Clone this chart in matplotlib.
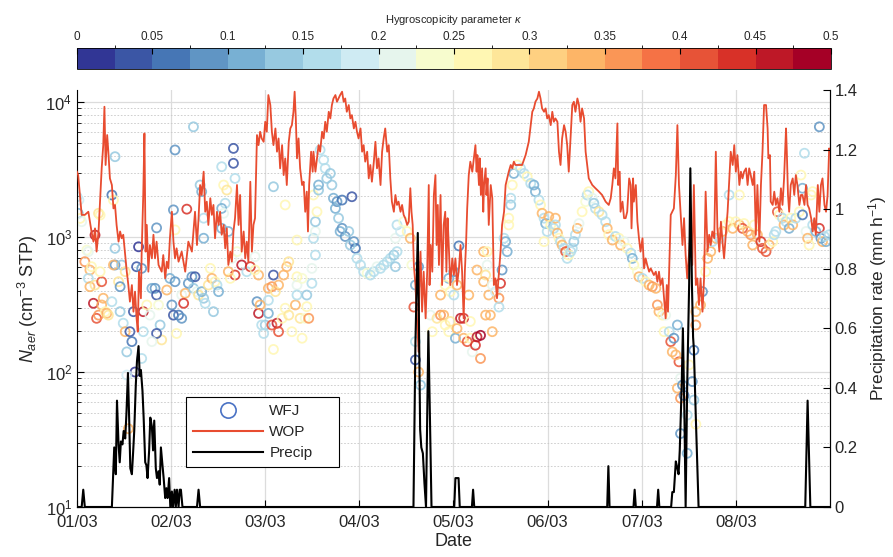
import numpy as np
import matplotlib
matplotlib.use('Agg')
import matplotlib.pyplot as plt
from matplotlib.colors import ListedColormap, BoundaryNorm
from matplotlib.cm import ScalarMappable
from matplotlib.lines import Line2D
from matplotlib.ticker import FuncFormatter

plt.rcParams['font.family'] = ['Liberation Sans', 'DejaVu Sans']
plt.rcParams['mathtext.fontset'] = 'custom'
plt.rcParams['mathtext.rm'] = 'Liberation Sans'
plt.rcParams['mathtext.it'] = 'Liberation Sans:italic'

# ---------------- data (time in hours from 01/03 00:00) ----------------
date_labels = ['01/03', '02/03', '03/03', '04/03', '05/03', '06/03', '07/03', '08/03']

# WOP aerosol number concentration (cm-3 STP)
wop_hour = [0.0, 0.3, 1.2, 2.0, 2.9, 3.7, 4.2, 4.6, 5.0, 5.5, 6.3, 6.7, 7.0, 7.3, 7.7, 8.0,
            8.4, 8.9, 9.3, 9.7, 10.1, 10.6, 11.0, 11.4, 11.8, 12.3, 12.7, 13.1, 13.5, 14.0,
            14.4, 14.8, 15.2, 15.5, 15.8, 16.3, 16.5, 16.9, 17.2, 17.5, 17.8, 18.2, 18.6,
            19.1, 19.5, 19.9, 20.3, 20.8, 21.6, 22.0, 22.5, 22.9, 23.3, 23.7,
            24.2, 24.6, 25.0, 25.4, 25.9, 26.7, 27.6, 28.4, 29.3, 29.7, 30.1, 30.6, 31.0,
            31.4, 31.8, 32.3, 32.7, 33.1, 33.5, 34.0, 34.4, 34.8, 35.2, 35.7, 36.1, 36.5,
            36.9, 37.4, 37.8, 38.2, 38.6, 39.1, 39.5, 39.9, 40.3, 40.8, 41.2, 41.6, 42.0,
            42.5, 42.9, 43.3, 43.7, 44.2, 44.6, 45.0, 45.4, 45.9, 46.3, 46.7, 47.1, 47.6,
            48.0, 48.4, 48.8, 49.3, 49.7, 50.1, 50.6, 51.0, 51.4, 51.8, 52.3, 52.7, 53.1,
            53.5, 54.0, 54.4, 54.8, 55.2, 55.5, 55.8, 56.1, 56.5, 56.9, 57.4, 57.8, 58.2,
            58.6, 58.9, 59.2, 59.7, 60.1, 60.3, 60.8, 61.2, 61.6, 62.0, 62.5, 62.9, 63.3,
            63.7, 64.2, 64.6, 65.0, 65.4, 65.9, 66.3, 66.7, 67.1, 67.6, 68.0, 68.4, 68.8,
            69.3, 69.7, 70.1, 70.6, 71.0, 71.4, 71.8, 72.3, 72.7, 73.1, 73.5, 74.0, 74.4,
            74.8, 75.2, 75.7, 76.1, 76.5, 76.9, 77.4, 77.8, 78.2, 78.6, 79.1, 79.5, 79.9,
            80.3, 80.8, 81.2, 81.6, 82.0, 82.5, 82.9, 83.3, 83.7, 84.2, 84.6, 85.0, 85.3,
            85.6, 85.9, 86.3, 86.7, 87.1, 87.3, 87.6, 88.0, 88.4, 88.9, 89.3, 89.7, 89.9,
            90.2, 90.6, 91.0, 91.4, 91.7, 92.0, 92.3, 92.7, 93.1, 93.5, 93.9, 94.2, 94.5,
            94.8, 95.2, 95.7, 96.1, 96.5, 96.9, 97.4, 97.8, 98.2, 98.6, 98.9, 99.2, 99.5,
            99.9, 100.3, 100.8, 101.2, 101.6, 101.9, 102.1, 102.5, 102.7, 103.0, 103.3,
            103.6, 103.8, 104.2, 104.4, 104.7, 105.0, 105.3, 105.5, 105.9, 106.3, 106.7,
            107.1, 107.6, 108.0, 108.4, 108.9, 109.3, 109.7, 110.1, 110.6, 111.0, 111.4,
            111.8, 112.7, 113.5, 114.4, 114.8, 115.2, 115.7, 116.1, 116.5, 116.9, 117.4,
            117.8, 118.2, 118.6, 119.1, 119.5, 119.9, 120.3, 120.8, 121.2, 121.6, 122.0,
            122.5, 122.9, 123.3, 123.7, 124.2, 124.6, 125.0, 125.4, 125.9, 126.3, 126.7,
            127.1, 127.6, 128.0, 128.4, 128.8, 129.3, 129.7, 130.1, 130.5, 131.4, 132.2,
            133.1, 133.9, 134.8, 135.6, 136.1, 136.5, 136.9, 137.3, 137.8, 138.0, 138.4,
            138.6, 139.1, 139.5, 139.9, 140.3, 140.8, 141.2, 141.4, 141.8, 142.0, 142.5,
            142.9, 143.3, 143.7, 144.2, 144.6, 145.0, 145.4, 145.9, 146.3, 146.7, 147.1,
            147.6, 148.0, 148.4, 148.8, 149.3, 149.7, 150.1, 150.4, 150.7, 151.0, 151.4,
            151.8, 152.2, 152.7, 153.1, 153.5, 153.9, 154.4, 154.8, 155.2, 155.6, 156.1,
            156.5, 156.9, 157.3, 157.8, 158.2, 158.6, 159.0, 159.5, 159.9, 160.3, 160.8,
            161.2, 161.6, 162.0, 162.5, 162.9, 163.3, 163.8, 164.2, 164.6, 165.0, 165.5,
            165.9, 166.3, 166.7, 167.2, 167.6, 168.0, 168.4, 168.9, 169.3, 169.7, 170.1,
            170.6, 171.0, 171.4, 171.8, 172.3, 172.7, 173.1, 173.5, 174.0, 174.4, 174.8,
            175.2, 175.7, 176.1, 176.3, 176.7, 176.9, 177.4, 177.8, 178.2, 178.6, 179.1,
            179.5, 179.9, 180.3, 180.8, 181.0, 181.3, 181.6, 182.0, 182.5, 182.9, 183.3,
            183.7, 184.2, 184.6, 185.0, 185.5, 185.9, 186.3, 186.7, 187.2, 187.6, 188.0,
            188.4, 188.9, 189.3, 189.7, 190.1, 190.6, 191.0, 191.4, 191.8, 192.0]
wop_n = [3050, 2880, 1460, 1460, 1540, 1100, 925, 1160, 780, 1100, 3230, 4800, 9240, 3420, 5700, 4290,
         2720, 2430, 1630, 1730, 1230, 925, 1100, 980, 1040, 736, 554, 441, 332, 441,
         280, 394, 250, 199, 554, 352, 780, 2050, 5860, 780, 1230, 554, 873,
         695, 1040, 695, 925, 621, 554, 736, 494, 657, 586, 980,
         1540, 925, 695, 825, 657, 780, 554, 925, 780, 1100, 1540, 873, 1380,
         2430, 2050, 3050, 1540, 1830, 1230, 1940, 1460, 1730, 980, 1540, 1230, 1540,
         1040, 1230, 825, 1160, 621, 780, 657, 1100, 1380, 2430, 1230, 2050, 780,
         1100, 695, 925, 657, 2570, 780, 1230, 1380, 5700, 4800, 6030, 5380, 5080,
         7150, 6030, 11280, 9510, 6030, 4800, 6380, 4290, 5380, 3230, 4800, 2880, 3830,
         2430, 5080, 6380, 6750, 8480, 11940, 7570, 3830, 5380, 3230, 2430, 2570, 1540,
         2170, 1100, 2430, 4290, 3050, 4290, 3050, 3830, 4800, 4290, 6030, 5380, 7150,
         6030, 8480, 7570, 9510, 10640, 11280, 10060, 10640, 11280, 11940, 10060, 10640, 8480,
         9510, 7570, 8010, 6380, 7150, 6030, 5380, 6380, 4290, 4800, 3620, 4290, 2720,
         3420, 2570, 3620, 5080, 3230, 3830, 2430, 4290, 5380, 6380, 4290, 4800, 2720,
         1830, 1540, 2050, 1730, 1830, 1540, 1730, 1460, 1380, 1230, 1300, 2300, 1540,
         1230, 621, 441, 250, 141, 441, 780, 280, 554, 250, 554, 2430, 441,
         873, 554, 2050, 2880, 873, 1730, 621, 2050, 441, 1230, 1540, 554, 1380,
         873, 441, 695, 523, 695, 441, 586, 873, 554, 250, 554, 873, 1630,
         2880, 3620, 3050, 3830, 4800, 3050, 4050, 2430, 3830, 2050, 3230,
         1540, 2430, 3230, 2050, 2720, 1230, 1830, 2430, 1940, 441, 494,
         352, 554, 780, 1230, 1540, 2430, 2720, 3050, 3420, 3230, 3620,
         3420, 3420, 3420, 4050, 4540, 5080, 6750, 8480, 8980, 10060, 10640,
         11940, 10640, 8980, 8480, 8980, 7570, 8010, 6750, 8480, 7150, 7570,
         7150, 4290, 3420, 5380, 6750, 6030, 4800, 3050, 5700, 9510, 10060,
         8480, 10640, 9510, 7150, 8980, 7570, 4290, 3420, 2720, 2430, 2300,
         2170, 2050, 1830, 1730, 1940, 2430, 3230, 2720, 6950, 2430, 3050,
         1540, 1830, 1380, 1380, 1540, 2720, 2430, 1160, 2720, 1830, 2430,
         1300, 980, 780, 980, 586, 695, 621, 554, 586, 554, 523,
         554, 467, 554, 441, 494, 352, 250, 441, 280, 554, 1460,
         1540, 1630, 2880, 6750, 2430, 1540, 873, 1380, 736, 494, 780,
         1230, 621, 2430, 441, 494, 314, 494, 280, 494, 2170, 780,
         1040, 873, 1100, 980, 4290, 1160, 780, 1300, 925, 695, 1100,
         1540, 2570, 4290, 3420, 4800, 3050, 4050, 2430, 3050, 2720, 3050,
         3230, 2430, 3230, 2880, 2430, 3050, 1040, 2430, 925, 2430, 4290,
         9510, 9510, 6380, 3830, 4050, 1830, 1730, 2170, 1730, 1940, 1540,
         2300, 1730, 2720, 6380, 4290, 2050, 1540, 2430, 2720, 2050, 2880,
         2430, 1730, 2050, 2050, 1730, 2430, 1730, 1630, 1380, 1100, 1380,
         1040, 2430, 1540, 2430, 2720, 1730, 1540, 2050, 4540, 4290]

# Precipitation rate (mm h-1)
precip_hour = [0.0, 1.2, 1.6, 2.0, 8.9, 9.5, 9.9, 10.2, 10.6, 10.9, 11.2, 11.6, 11.9, 12.3,
               12.6, 13.0, 13.3, 13.6, 14.0, 14.3, 14.6, 15.0, 15.3, 15.7, 16.0, 16.3, 16.7,
               17.0, 17.4, 17.7, 18.0, 18.4, 18.7, 19.1, 19.4, 19.7, 20.1, 20.4, 20.8, 21.1,
               21.4, 21.8, 22.1, 22.5, 22.8, 23.1, 23.5, 23.8, 24.2, 24.5, 24.9, 25.2, 25.5,
               25.9, 26.2, 26.5, 26.9, 30.6, 31.0, 31.4, 85.2, 85.8, 86.3, 86.9, 87.2, 87.5,
               87.8, 88.2, 88.6, 89.0, 89.3, 89.6, 90.0, 90.4, 96.2, 96.5, 97.3, 97.6, 100.7,
               101.0, 101.3, 135.2, 135.5, 135.8, 141.9, 142.2, 142.5, 147.9, 148.2, 148.5,
               151.5, 151.8, 152.2, 152.7, 153.1, 153.4, 153.7, 154.2, 154.5, 154.9, 155.2,
               155.6, 156.1, 156.4, 156.8, 157.1, 157.3, 157.8, 158.5, 185.7, 186.3, 187.0, 192.0]
precip_rate = [0, 0, 0.058, 0, 0, 0.2, 0.11, 0.357, 0.21, 0.15, 0.22, 0.21, 0.255, 0.23,
               0.31, 0.45, 0.3, 0.13, 0.11, 0.18, 0.255, 0.41, 0.49, 0.54, 0.44, 0.46, 0.39,
               0.30, 0.15, 0.14, 0.097, 0.19, 0.30, 0.27, 0.19, 0.29, 0.13, 0.097, 0.12, 0.075,
               0.2, 0.14, 0.097, 0.03, 0.063, 0.03, 0.097, 0, 0.052, 0, 0.058, 0, 0.058,
               0, 0.058, 0.058, 0, 0, 0.058, 0, 0, 0, 0.55, 0.92, 0.62, 0.26,
               0.2, 0.18, 0.08, 0, 0.3, 0.59, 0.3, 0, 0, 0.097, 0.097, 0, 0,
               0.058, 0, 0, 0.137, 0, 0, 0.058, 0, 0, 0.058, 0,
               0, 0.05, 0.05, 0.153, 0.13, 0.11, 0.19, 0.41, 0.6, 0.3, 0,
               0.41, 0.75, 1.137, 0.75, 0.57, 0.53, 0.3, 0, 0, 0.357, 0, 0]

# WFJ aerosol number concentration with hygroscopicity parameter kappa
wfj_hour = [0.0, 0.5, 0.3, 0.8, 1.2, 4.6, 5.5, 5.9, 2.5, 2.9, 2.0, 3.3, 3.7, 2.9, 3.3, 4.6,
            6.3, 5.9, 4.2, 5.0, 5.5, 6.3, 7.2, 7.6, 8.0, 6.7, 8.9, 9.3, 9.7, 9.7, 9.7, 9.3,
            11.4, 12.3, 10.6, 11.0, 8.9, 11.0, 11.8, 12.3, 13.5, 14.0, 12.7, 14.8, 12.7, 15.7,
            15.2, 16.5, 14.4, 16.9, 17.8, 18.6, 19.1, 19.9, 20.3, 20.8, 21.2, 21.6, 20.3, 16.5,
            16.9, 19.1, 22.9, 23.7, 25.0, 24.2, 24.6, 25.9, 26.7, 26.7, 27.6, 27.2, 25.4, 25.0,
            24.6, 28.0, 20.3, 25.0, 29.3, 30.1, 28.4, 29.7, 30.6, 31.0, 31.8, 32.3, 32.7, 33.5,
            34.0, 34.4, 35.2, 35.7, 36.1, 34.8, 29.7, 31.4, 31.8, 32.3, 32.3, 36.9, 37.4, 38.2,
            37.8, 36.9, 37.4, 36.9, 38.6, 39.9, 39.9, 39.5, 40.3, 39.1, 38.6, 13.1,
            40.3, 40.8, 42.0, 43.3, 44.2, 45.4, 46.3, 45.4, 50.1, 50.1, 53.1, 52.7, 53.5, 54.0,
            56.1, 56.1, 56.1, 48.8, 49.7, 50.6, 51.4, 48.8, 45.9, 46.3, 46.7, 48.8, 48.0, 47.6,
            47.1, 49.7, 51.0, 51.4, 50.1, 52.3, 53.1, 54.0, 54.8, 55.7, 57.4, 56.9, 58.2, 59.1,
            58.6, 56.1, 57.4, 58.6, 59.9, 59.9, 60.8, 60.3, 60.8, 60.8, 61.2, 60.3, 61.6, 61.6,
            62.0, 62.9, 63.3, 63.7, 64.6, 65.0, 65.4, 66.3, 65.9, 66.7, 67.6, 70.1, 67.1, 67.6,
            68.4, 69.3, 70.6, 71.0, 69.7, 71.4, 72.3, 73.1, 74.0, 74.8, 75.7, 76.5, 77.4, 78.2,
            79.1, 79.9, 80.8, 81.6,
            81.6, 81.2, 81.2, 82.5, 83.3, 84.2, 85.0, 85.4, 86.3, 85.9, 87.1, 87.1, 86.3, 87.6,
            86.3, 90.1, 90.6, 91.8, 92.7, 93.5, 93.9, 94.8, 95.2, 96.5, 96.9, 97.8, 98.6, 98.6,
            99.5, 100.3, 100.3, 100.8, 101.6, 102.0, 102.9, 102.9, 97.4, 96.1, 94.8, 93.9, 92.7,
            95.2, 96.1, 96.9, 99.9, 102.0, 103.7, 104.6, 104.2, 103.7, 105.0, 104.2, 105.4,
            105.9, 105.9, 106.7, 107.6, 107.6, 108.0, 108.4, 104.6, 108.9, 109.3, 109.7, 110.1,
            110.1, 110.6, 110.6, 111.0, 111.4, 112.3, 113.1, 114.0, 114.8, 115.7, 116.5, 116.9,
            117.8, 118.2, 118.6, 119.1, 119.5, 119.9, 119.1, 120.3, 120.8, 121.6, 122.0,
            122.0, 122.5, 122.9, 123.3, 123.7, 124.2, 124.6, 125.0, 125.4, 125.9, 126.3, 126.7,
            127.1, 127.6, 128.0, 128.8, 129.7, 130.1, 130.5, 131.4, 131.8, 132.2, 133.1, 133.9,
            134.8, 135.2, 135.6, 136.5, 137.3, 138.2, 138.6, 139.5, 140.3, 141.2, 141.6, 142.0,
            142.9, 143.3, 144.2, 145.0, 145.9, 146.7, 147.6, 148.0, 148.4, 149.3, 150.1, 149.7,
            151.0, 151.4, 151.8, 153.1, 152.2, 153.5, 152.7, 153.1, 153.9, 154.4, 153.9, 154.8,
            156.1, 155.6, 156.9, 157.3, 153.9, 155.6, 157.8, 157.3, 157.8, 157.8, 159.0, 159.5,
            160.3, 160.8, 161.6, 162.0, 162.9,
            163.8, 164.6, 165.5, 166.3, 166.3, 167.2, 168.0, 168.9, 168.9, 169.7, 170.1, 171.0,
            171.8, 172.3, 172.7, 173.5, 174.4, 174.8, 175.7, 176.5, 177.4, 177.8, 178.2, 178.6,
            179.1, 179.9, 180.3, 180.8, 181.6, 182.0, 182.5, 183.3, 184.2, 184.6, 185.0, 185.0,
            185.5, 185.9, 186.3, 186.7, 187.2, 187.6, 187.6, 188.4, 189.3, 189.7, 190.1, 190.6,
            191.0, 191.8, 189.3]
wfj_n = [1990, 1880, 1500, 1375, 1300, 1035, 1500, 1455, 800, 780, 657, 570, 603, 494, 429, 441,
         467, 554, 323, 250, 264, 314, 280, 272, 264, 352, 2050, 1880, 3940, 825, 621, 621,
         621, 554, 467, 429, 332, 280, 230, 199, 199, 168, 141, 100, 95, 847,
         603, 586, 280, 280, 314, 264, 417, 417, 372, 314, 223, 173, 193, 126,
         199, 168, 405, 494, 467, 314, 264, 264, 250, 372, 383, 323, 193, 4420,
         1590, 1610, 1170, 1130, 508, 508, 454, 417, 394, 372, 394, 352, 323, 441,
         586, 494, 467, 441, 394, 280, 6560, 2430, 2170, 1380, 980, 3320, 2430, 2230,
         1780, 1630, 1500, 1160, 1100, 4540, 3520, 695, 523, 494, 554, 38,
         2720, 780, 621, 554, 603, 715, 523, 570, 523, 2360, 1730, 523, 603, 657,
         950, 508, 441, 417, 429, 394, 441, 340, 332, 272, 314, 272, 223, 193,
         223, 223, 230, 199, 147, 250, 297, 264, 199, 314, 178, 250, 250, 250,
         305, 372, 494, 372, 586, 454, 736, 980, 1100, 1300, 1540, 2050, 2230, 2430,
         4420, 3730, 3230, 2720, 2960, 2430, 1940, 1830, 1630, 1380, 1880, 1990, 1100, 1160,
         1010, 1100, 925, 825, 873, 695, 621, 554, 540, 523, 554, 603, 586, 621,
         657, 695, 736, 780,
         1230, 980, 603, 1100, 1300, 1100, 980, 621, 441, 303, 603, 100, 123, 80,
         168, 264, 199, 250, 264, 264, 223, 199, 237, 178, 210, 250, 250, 178,
         168, 178, 237, 141, 158, 182, 126, 187, 860, 554, 494, 441, 372,
         394, 372, 441, 372, 570, 780, 621, 523, 467, 372, 264, 264,
         199, 441, 394, 352, 303, 454, 570, 780, 980, 925, 780, 1230,
         1380, 1730, 1940, 2430, 2960, 3420, 3230, 2960, 2800, 2500, 2430, 2170,
         1880, 1730, 1500, 1380, 1260, 1100, 925, 1420, 1230, 1160, 1380,
         1230, 1070, 980, 925, 873, 825, 780, 695, 736, 780, 825, 925,
         1040, 1160, 1260, 1540, 1830, 2050, 2170, 1940, 1780, 1630, 1540, 1460,
         1300, 1160, 1040, 950, 1010, 980, 873, 925, 825, 760, 695, 621,
         554, 508, 494, 467, 441, 429, 417, 314, 280, 264, 264, 199,
         199, 168, 141, 223, 178, 119, 134, 76, 90, 80, 64, 67,
         113, 48, 85, 62, 35, 25, 41, 145, 223, 280, 314, 394,
         554, 695, 780, 925, 980,
         980, 1100, 1230, 2050, 1300, 1160, 1300, 2050, 1230, 1160, 1260, 1100,
         1040, 873, 1230, 1040, 925, 825, 780, 873, 925, 1040, 1100, 1540,
         1460, 1380, 1230, 1300, 1160, 1380, 1230, 1380, 1540, 2880, 2300, 1460,
         4180, 1100, 980, 873, 2050, 2170, 1230, 1100, 1160, 980, 925, 1010,
         925, 1040, 6560]
wfj_kappa = [0.17, 0.19, 0.12, 0.25, 0.21, 0.46, 0.30, 0.26, 0.23, 0.20, 0.36, 0.33, 0.27, 0.16, 0.34, 0.29,
             0.42, 0.27, 0.45, 0.42, 0.36, 0.35, 0.27, 0.34, 0.30, 0.33, 0.07, 0.25, 0.15, 0.15, 0.08, 0.35,
             0.14, 0.30, 0.29, 0.08, 0.16, 0.15, 0.17, 0.34, 0.03, 0.06, 0.15, 0.02, 0.18, 0.02,
             0.03, 0.09, 0.03, 0.45, 0.25, 0.20, 0.10, 0.09, 0.04, 0.23, 0.15, 0.30, 0.04, 0.16,
             0.17, 0.20, 0.35, 0.10, 0.08, 0.08, 0.04, 0.05, 0.08, 0.21, 0.35, 0.43, 0.26, 0.08,
             0.08, 0.43, 0.09, 0.25, 0.08, 0.04, 0.09, 0.15, 0.20, 0.30, 0.10, 0.15, 0.17, 0.30,
             0.26, 0.33, 0.25, 0.16, 0.10, 0.15, 0.15, 0.15, 0.10, 0.17, 0.10, 0.17, 0.25, 0.29,
             0.16, 0.10, 0.20, 0.10, 0.10, 0.03, 0.03, 0.20, 0.43, 0.26, 0.35, 0.35,
             0.17, 0.23, 0.45, 0.17, 0.43, 0.20, 0.35, 0.26, 0.03, 0.15, 0.25, 0.35, 0.33, 0.30,
             0.26, 0.25, 0.20, 0.35, 0.36, 0.30, 0.34, 0.16, 0.08, 0.45, 0.35, 0.10, 0.15, 0.16,
             0.17, 0.42, 0.47, 0.40, 0.25, 0.26, 0.25, 0.30, 0.26, 0.33, 0.26, 0.30, 0.23, 0.36,
             0.25, 0.16, 0.23, 0.15, 0.20, 0.16, 0.16, 0.16, 0.20, 0.15, 0.25, 0.25, 0.15, 0.10,
             0.17, 0.17, 0.16, 0.15, 0.15, 0.14, 0.10, 0.09, 0.10, 0.15, 0.05, 0.04, 0.10, 0.08,
             0.09, 0.15, 0.08, 0.07, 0.14, 0.16, 0.16, 0.17, 0.23, 0.16, 0.17, 0.20, 0.16, 0.17,
             0.16, 0.17, 0.15, 0.17,
             0.17, 0.20, 0.15, 0.18, 0.23, 0.26, 0.33, 0.23, 0.10, 0.42, 0.08, 0.35, 0.04, 0.15,
             0.16, 0.20, 0.25, 0.30, 0.36, 0.35, 0.27, 0.25, 0.30, 0.10, 0.35, 0.46, 0.44, 0.35,
             0.42, 0.25, 0.25, 0.21, 0.44, 0.47, 0.36, 0.48, 0.05, 0.08, 0.10, 0.25, 0.33,
             0.25, 0.16, 0.33, 0.34, 0.35, 0.34, 0.20, 0.30, 0.35, 0.35, 0.34, 0.35,
             0.33, 0.21, 0.18, 0.36, 0.17, 0.44, 0.08, 0.25, 0.17, 0.10, 0.10, 0.25,
             0.25, 0.15, 0.17, 0.25, 0.10, 0.25, 0.17, 0.16, 0.25, 0.16, 0.10, 0.10,
             0.16, 0.25, 0.33, 0.16, 0.10, 0.16, 0.25, 0.33, 0.25, 0.16, 0.33,
             0.16, 0.33, 0.25, 0.16, 0.35, 0.17, 0.40, 0.16, 0.25, 0.17, 0.16, 0.15,
             0.17, 0.33, 0.20, 0.25, 0.24, 0.17, 0.25, 0.21, 0.15, 0.16, 0.30, 0.16,
             0.17, 0.33, 0.26, 0.35, 0.17, 0.25, 0.33, 0.20, 0.25, 0.17, 0.10, 0.25,
             0.23, 0.35, 0.17, 0.25, 0.33, 0.36, 0.35, 0.36, 0.33, 0.27, 0.21, 0.26,
             0.16, 0.40, 0.35, 0.10, 0.08, 0.42, 0.35, 0.35, 0.20, 0.08, 0.36, 0.05,
             0.25, 0.16, 0.09, 0.15, 0.09, 0.12, 0.25, 0.07, 0.36, 0.35, 0.33, 0.08,
             0.26, 0.35, 0.33, 0.16, 0.33,
             0.16, 0.35, 0.25, 0.17, 0.26, 0.33, 0.25, 0.25, 0.35, 0.42, 0.26, 0.35,
             0.36, 0.34, 0.25, 0.33, 0.44, 0.40, 0.42, 0.34, 0.26, 0.16, 0.17, 0.42,
             0.25, 0.16, 0.33, 0.17, 0.10, 0.25, 0.33, 0.16, 0.25, 0.25, 0.10, 0.05,
             0.17, 0.20, 0.33, 0.25, 0.25, 0.25, 0.16, 0.10, 0.44, 0.08, 0.35, 0.16,
             0.10, 0.17, 0.08]

kappa_edges = np.linspace(0, 0.5, 21)
kappa_ticks = np.linspace(0, 0.5, 11)
prec_ticks = [0, 0.2, 0.4, 0.6, 0.8, 1.0, 1.2, 1.4]

# ---------------- plotting ----------------
txt = '#262626'
cmap = ListedColormap(plt.cm.RdYlBu_r(np.linspace(0, 1, 20)))
norm = BoundaryNorm(kappa_edges, cmap.N)

fig = plt.figure(figsize=(8.93, 5.57), dpi=100)
ax = fig.add_axes([0.0862, 0.0898, 0.8432, 0.7487])
ax.set_axisbelow(True)

ax.scatter(wfj_hour, wfj_n, s=42, facecolors='none',
           edgecolors=cmap(norm(np.array(wfj_kappa))), linewidths=1.3, alpha=0.85, zorder=2)
ax.plot(wop_hour, wop_n, color='#e84c30', lw=1.3, zorder=3)

ax.set_yscale('log')
ax.set_ylim(10, 10**4.09)
ax.set_xlim(0, 192)
ax.set_xticks(np.arange(0, 192, 24))
ax.set_xticklabels(date_labels)
ax.grid(True, which='major', color='#dcdcdc', lw=0.9)
ax.grid(True, which='minor', axis='y', color='#c8c8c8', ls=(0, (2, 2)), lw=0.6)
ax.tick_params(which='both', direction='in', labelsize=12, labelcolor=txt)
ax.tick_params(which='major', length=5)
ax.tick_params(which='minor', length=3)
ax.tick_params(axis='x', length=5, pad=6)
ax.set_xlabel('Date', fontsize=13, labelpad=2, color=txt)
ax.set_ylabel('$N_{aer}$ (cm$^{-3}$ STP)', fontsize=13, labelpad=4, color=txt)
ax.spines['top'].set_visible(False)

ax2 = ax.twinx()
ax2.plot(precip_hour, precip_rate, color='black', lw=1.5, zorder=4)
ax2.set_ylim(0, 1.4)
ax2.set_yticks(prec_ticks)
ax2.yaxis.set_major_formatter(FuncFormatter(lambda v, p: f'{v:g}'))
ax2.tick_params(direction='in', length=5, labelsize=12, labelcolor=txt)
ax2.set_ylabel('Precipitation rate (mm h$^{-1}$)', fontsize=12.5, labelpad=6, color=txt)
ax2.spines['top'].set_visible(False)
ax2.spines['left'].set_visible(False)

handles = [Line2D([], [], marker='o', ls='none', mfc='none', mec='#4a72c4', ms=11, mew=1.2),
           Line2D([], [], color='#e84c30', lw=1.5),
           Line2D([], [], color='black', lw=1.5)]
leg = ax2.legend(handles, ['WFJ', 'WOP', 'Precip'], loc='lower left',
                 bbox_to_anchor=(0.1448, 0.096, 0.203, 0.165), mode='expand',
                 borderaxespad=0, fontsize=11, handlelength=4.6,
                 labelspacing=0.45, borderpad=0.45, handletextpad=0.4,
                 fancybox=False, framealpha=1, edgecolor='black')
leg.get_frame().set_linewidth(0.8)
for t in leg.get_texts():
    t.set_color(txt)

cax = fig.add_axes([0.0862, 0.8761, 0.8443, 0.0377])
cb = fig.colorbar(ScalarMappable(norm=norm, cmap=cmap), cax=cax, orientation='horizontal',
                  ticks=kappa_ticks)
cax.xaxis.set_ticks_position('top')
cax.xaxis.set_label_position('top')
cax.set_xticklabels([f'{v:g}' for v in kappa_ticks])
cax.tick_params(direction='in', length=4, labelsize=8.5, labelcolor=txt)
cb.set_label(r'Hygroscopicity parameter $\kappa$', fontsize=8, labelpad=6, color=txt)
cb.outline.set_linewidth(0.6)

fig.savefig('out.png', dpi=100)
